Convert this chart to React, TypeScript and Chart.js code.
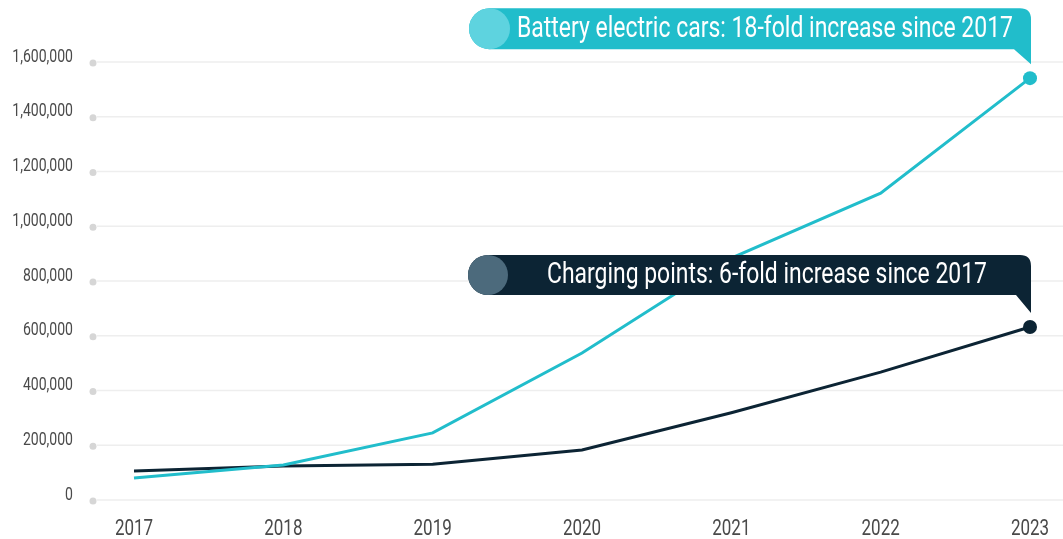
import React, { useEffect, useRef } from "react";
import { Chart, registerables } from "chart.js";

Chart.register(...registerables);

const years = ["2017", "2018", "2019", "2020", "2021", "2022", "2023"];
const batteryElectricCars = [80000, 128000, 245000, 537000, 884000, 1121000, 1541000];
const chargingPoints = [106000, 124000, 131000, 183000, 319000, 467000, 632000];
const yTicks = [0, 200000, 400000, 600000, 800000, 1000000, 1200000, 1400000, 1600000];
const bevLabel = "Battery electric cars: 18-fold increase since 2017";
const cpLabel = "Charging points: 6-fold increase since 2017";

const FONT = "Roboto, 'DejaVu Sans', sans-serif";
const CYAN = "#21BDCB";
const CYAN_LIGHT = "#5ED3DF";
const DARK = "#0C2434";
const DARK_LIGHT = "#4C6A7C";
const LABEL = "#4a4a4a";

function narrowText(
  ctx: CanvasRenderingContext2D,
  text: string,
  x: number,
  y: number,
  size: number,
  scaleX: number,
  align: "left" | "right" | "center",
  color: string
) {
  ctx.save();
  ctx.font = `${size}px ${FONT}`;
  ctx.fillStyle = color;
  ctx.textBaseline = "middle";
  ctx.textAlign = align;
  ctx.translate(x, y);
  ctx.scale(scaleX, 1);
  ctx.fillText(text, 0, 0);
  ctx.restore();
}

const gridPlugin = {
  id: "gridDots",
  beforeDatasetsDraw(chart: any) {
    const ctx = chart.ctx;
    const y = chart.scales.y;
    ctx.save();
    yTicks.forEach((v) => {
      const py = y.getPixelForValue(v);
      ctx.strokeStyle = "#eeeeee";
      ctx.lineWidth = 1.5;
      ctx.beginPath();
      ctx.moveTo(97, py);
      ctx.lineTo(chart.width, py);
      ctx.stroke();
      ctx.fillStyle = "#d6d6d6";
      ctx.beginPath();
      ctx.arc(93, py + 1, 3.5, 0, Math.PI * 2);
      ctx.fill();
    });
    ctx.restore();
  },
};

const tickLabelPlugin = {
  id: "tickLabels",
  afterDraw(chart: any) {
    const ctx = chart.ctx;
    const x = chart.scales.x;
    const y = chart.scales.y;
    yTicks.forEach((v) => {
      narrowText(ctx, v.toLocaleString("en-US"), 73, y.getPixelForValue(v) - 5, 18, 0.78, "right", LABEL);
    });
    years.forEach((lab, i) => {
      narrowText(ctx, lab, x.getPixelForValue(i), 530, 21.5, 0.79, "center", LABEL);
    });
  },
};

function drawCallout(
  ctx: CanvasRenderingContext2D,
  left: number,
  top: number,
  bottom: number,
  right: number,
  tailStartX: number,
  tipY: number,
  color: string,
  light: string,
  text: string,
  textLeft: number,
  textWidth: number
) {
  const h = bottom - top;
  const r = h / 2;
  const cr = 11;
  ctx.save();
  ctx.fillStyle = color;
  ctx.beginPath();
  ctx.moveTo(left + r, top);
  ctx.lineTo(right - cr, top);
  ctx.quadraticCurveTo(right, top, right, top + cr);
  ctx.lineTo(right, tipY);
  ctx.lineTo(tailStartX, bottom);
  ctx.lineTo(left + r, bottom);
  ctx.arc(left + r, top + r, r, Math.PI / 2, (Math.PI * 3) / 2);
  ctx.closePath();
  ctx.fill();
  ctx.fillStyle = light;
  ctx.beginPath();
  ctx.arc(left + r, top + r, r, 0, Math.PI * 2);
  ctx.fill();
  const size = 29;
  ctx.font = `${size}px ${FONT}`;
  const w = ctx.measureText(text).width;
  ctx.restore();
  narrowText(ctx, text, textLeft, top + r + 1, size, textWidth / w, "left", "#ffffff");
}

const calloutPlugin = {
  id: "callouts",
  afterDatasetsDraw(chart: any) {
    const ctx = chart.ctx;
    const p0 = chart.getDatasetMeta(0).data[years.length - 1];
    const p1 = chart.getDatasetMeta(1).data[years.length - 1];
    drawCallout(ctx, 469, p0.y - 70, p0.y - 29, p0.x + 1, p0.x - 16, p0.y - 14, CYAN, CYAN_LIGHT, bevLabel, 517, 496);
    drawCallout(ctx, 468, p1.y - 72, p1.y - 32, p1.x + 1, p1.x - 14, p1.y - 14, DARK, DARK_LIGHT, cpLabel, 547, 440);
  },
};

export default function App() {
  const ref = useRef<HTMLCanvasElement>(null);
  useEffect(() => {
    if (!ref.current) return;
    const chart = new Chart(ref.current, {
      type: "line",
      data: {
        labels: years,
        datasets: [
          {
            label: "Battery electric cars",
            data: batteryElectricCars,
            borderColor: CYAN,
            backgroundColor: CYAN,
            borderWidth: 3,
            pointRadius: years.map((_, i) => (i === years.length - 1 ? 7 : 0)),
            pointBorderWidth: 0,
            tension: 0,
          },
          {
            label: "Charging points",
            data: chargingPoints,
            borderColor: DARK,
            backgroundColor: DARK,
            borderWidth: 3,
            pointRadius: years.map((_, i) => (i === years.length - 1 ? 7 : 0)),
            pointBorderWidth: 0,
            tension: 0,
          },
        ],
      },
      options: {
        animation: false,
        responsive: false,
        maintainAspectRatio: false,
        layout: { padding: { top: 62, right: 33, left: 0, bottom: 0 } },
        plugins: { legend: { display: false }, tooltip: { enabled: false } },
        scales: {
          x: {
            offset: false,
            grid: { display: false, drawTicks: false },
            border: { display: false },
            ticks: { display: false },
            afterFit: (s: any) => {
              s.height = 39;
            },
          },
          y: {
            min: 0,
            max: 1600000,
            grid: { display: false, drawTicks: false },
            border: { display: false },
            ticks: { display: false, stepSize: 200000 },
            afterFit: (s: any) => {
              s.width = 134;
            },
          },
        },
      },
      plugins: [gridPlugin, calloutPlugin, tickLabelPlugin],
    });
    return () => chart.destroy();
  }, []);
  return (
    <div style={{ position: "fixed", left: 0, top: 0, width: 1063, height: 539, background: "#fff" }}>
      <canvas ref={ref} width={1063} height={539} style={{ width: 1063, height: 539 }} />
    </div>
  );
}
